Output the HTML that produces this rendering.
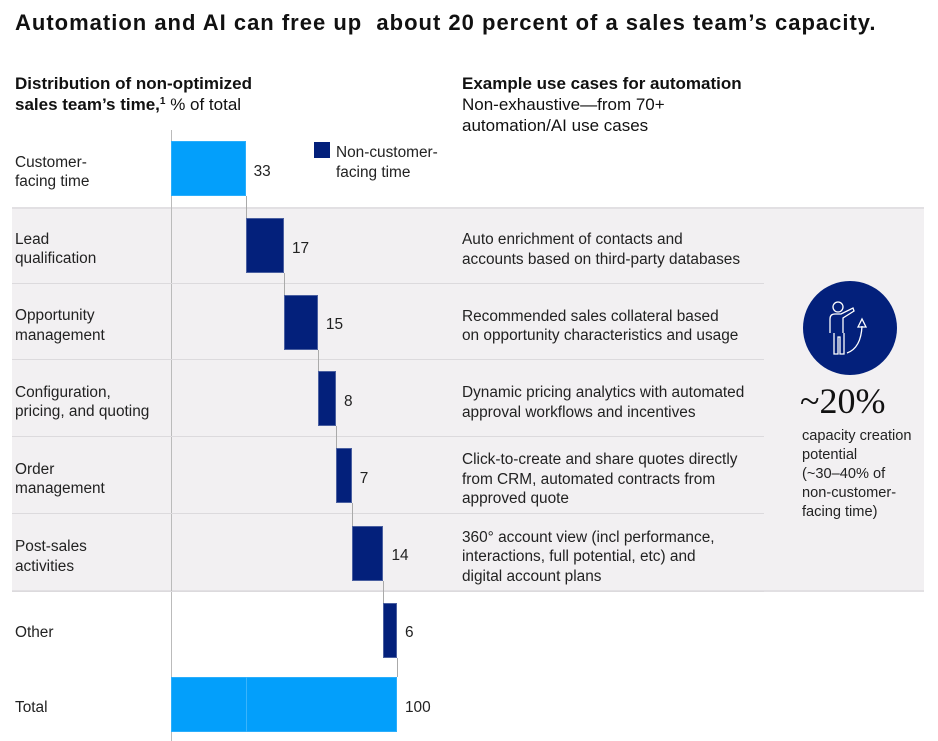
<!DOCTYPE html>
<html><head><meta charset="utf-8"><style>
body{margin:0;width:938px;height:741px;background:#fff;font-family:"Liberation Sans",sans-serif;color:#222;position:relative;overflow:hidden}
.a{position:absolute}
.t{font-size:15.4px;line-height:19.5px;color:#222}
.b{font-weight:bold}
sup{line-height:0;vertical-align:6px;font-size:10px}
</style></head><body>
<div class="a b" style="left:15px;top:10px;font-size:22px;letter-spacing:1px;color:#111;white-space:nowrap">Automation and AI can free up&nbsp; about 20 percent of a sales team’s capacity.</div>
<div class="a t" style="left:15px;top:73px;font-size:17px;line-height:21px;color:#111"><b>Distribution of non-optimized<br>sales team’s time,<sup>1</sup></b> % of total</div>
<div class="a t" style="left:462px;top:73px;font-size:17px;line-height:21px;color:#111"><b>Example use cases for automation</b><br>Non-exhaustive—from 70+<br>automation/AI use cases</div>
<div class="a" style="left:12px;top:207px;width:912px;height:385px;background:#f2f0f2;border-top:2px solid #e2e0e3;border-bottom:2px solid #e2e0e3;box-sizing:border-box"></div>
<div id="chart" class="a" style="left:0;top:0;width:938px;height:741px"></div>
<div class="a" style="left:314px;top:142px;width:16px;height:16px;background:#03207b"></div>
<div class="a t" style="left:336px;top:143px">Non-customer-<br>facing time</div>
<div class="a" style="left:803px;top:281px;width:94px;height:94px;border-radius:50%;background:#03207b">
<svg width="94" height="94" viewBox="0 0 94 94" fill="none" stroke="#fff" stroke-width="1.3"><circle cx="35" cy="26" r="5"/><path d="M27 52V38q0-5 5-5h6l12-6 1 3-11 7v15M31 52v21h4V56h2v17h4V52"/><path d="M44 72q14-5 15-27"/><path d="M55 46l4-8 4 8z"/></svg></div>
<div class="a" style="left:800px;top:380px;font-family:'Liberation Serif',serif;font-size:36px;color:#111">~20%</div>
<div class="a t" style="left:802px;top:427px;font-size:14.6px;line-height:19px">capacity creation<br>potential<br>(~30–40% of<br>non-customer-<br>facing time)</div>
<script>
const categories=["Customer-<br>facing time","Lead<br>qualification","Opportunity<br>management","Configuration,<br>pricing, and quoting","Order<br>management","Post-sales<br>activities","Other","Total"];
const values=[33,17,15,8,7,14,6,100];
const useCases=["","Auto enrichment of contacts and<br>accounts based on third-party databases","Recommended sales collateral based<br>on opportunity characteristics and usage","Dynamic pricing analytics with automated<br>approval workflows and incentives","Click-to-create and share quotes directly<br>from CRM, automated contracts from<br>approved quote","360° account view (incl performance,<br>interactions, full potential, etc) and<br>digital account plans","",""];
const c=document.getElementById('chart');
const x0=171,k=2.26;
const rowTop=[130,207,284,360,437,514,592,668];
const rowH=[77,77,76,77,77,78,76,73];
const X=v=>x0+v*k;
function add(css,name,html){const d=document.createElement('div');d.className='a';d.style.cssText=css;if(html)d.innerHTML=html;


c.appendChild(d);return d;}
add(`left:${x0}px;top:130px;width:1px;height:611px;background:#bbb`,'y-axis-line');
let cum=0;
categories.forEach((cat,i)=>{
 const top=rowTop[i],h=rowH[i],mid=top+h/2;
 if(i>0&&i<6)add(`left:12px;top:${top+rowH[i]-1}px;width:752px;height:1px;background:#dcdadd`,'row-separator');
 add(`left:15px;top:${mid-(cat.includes('<br>')?16:7)}px`,'category-label',`<div class="t">${cat}</div>`);
 if(useCases[i])add(`left:462px;top:${mid+4-useCases[i].split('<br>').length*9.75}px`,'use-case-text',`<div class="t">${useCases[i]}</div>`);
 const isTotal=i===values.length-1;
 const start=isTotal?0:cum,end=isTotal?values[i]:cum+values[i];
 const light=(i===0||isTotal);
 const bt=mid-27.5;
 add(`left:${X(start)}px;top:${bt}px;width:${X(end)-X(start)}px;height:55px;background:${light?'#039ffb':'#03207b'};box-sizing:border-box;border:1px solid ${light?'#2aaefc':'#4a5fa0'}`,'bar-'+i);
 if(isTotal)add(`left:${X(values[0])}px;top:${bt}px;width:1px;height:55px;background:#39b4fc`,'total-divider');
 add(`left:${X(end)+8}px;top:${mid-7}px`,'value-label',`<div class="t">${values[i]}</div>`);
 if(i<values.length-1){const nt=rowTop[i+1]+rowH[i+1]/2-27.5;add(`left:${X(end)}px;top:${bt+55}px;width:1px;height:${nt-bt-55}px;background:#aaa`,'connector');}
 if(!isTotal)cum=end;
});
</script>
</body></html>
